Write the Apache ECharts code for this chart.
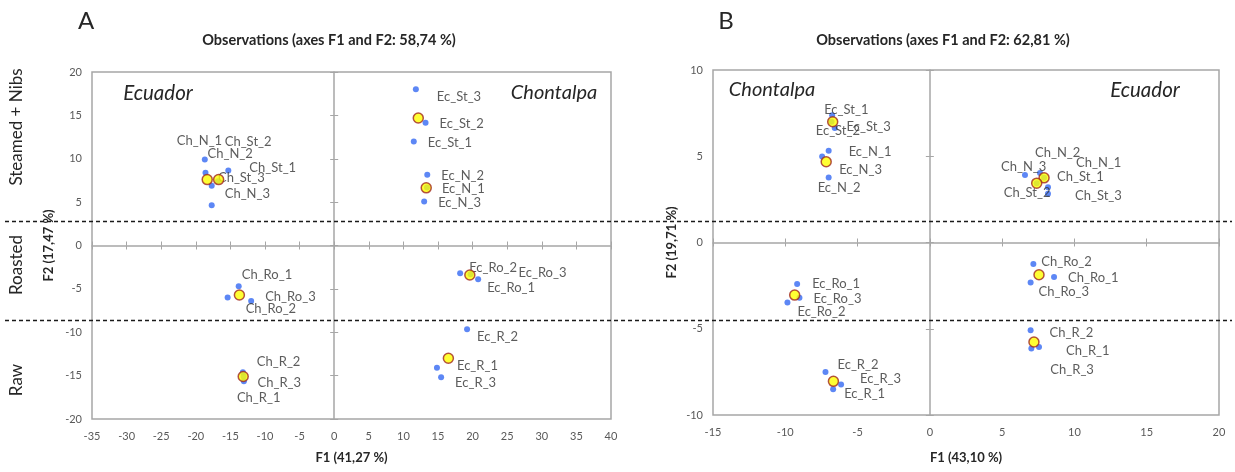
<!DOCTYPE html>
<html>
<head>
<meta charset="utf-8">
<script src="https://cdn.jsdelivr.net/npm/echarts@6/dist/echarts.min.js"></script>
<style>
  html, body { margin: 0; padding: 0; background: #fff; }
  #chart { width: 1235px; height: 472px; }
</style>
</head>
<body>
<div id="chart"></div>
<script>
// panel A - observations (F1 x F2)
const namesA = ['Ch_N_1', 'Ch_N_2', 'Ch_N_3', 'Ch_St_1', 'Ch_St_2', 'Ch_St_3',
  'Ec_St_1', 'Ec_St_2', 'Ec_St_3', 'Ec_N_1', 'Ec_N_2', 'Ec_N_3',
  'Ch_Ro_1', 'Ch_Ro_2', 'Ch_Ro_3', 'Ch_R_1', 'Ch_R_2', 'Ch_R_3',
  'Ec_Ro_1', 'Ec_Ro_2', 'Ec_Ro_3', 'Ec_R_1', 'Ec_R_2', 'Ec_R_3'];
const f1A = [-18.7, -18.6, -17.7, -15.3, -17.7, -16.8,
  11.5, 13.2, 11.8, 13.4, 13.45, 13.0,
  -13.8, -15.4, -12.0, -13.05, -13.2, -13.1,
  20.8, 18.2, 19.7, 14.85, 19.2, 15.45];
const f2A = [9.9, 8.4, 4.65, 8.65, 6.9, 7.4,
  12.0, 14.15, 18.0, 6.7, 8.15, 5.07,
  -4.7, -6.0, -6.4, -15.65, -14.6, -15.1,
  -3.9, -3.2, -3.3, -14.1, -9.65, -15.2];
// group centroids (yellow)
const centroidF1A = [-18.35, -16.7, 12.15, 13.3, -13.7, -13.15, 19.6, 16.5];
const centroidF2A = [7.6, 7.6, 14.7, 6.65, -5.7, -15.1, -3.4, -13.0];
const f1RangeA = [-35, 40];
const f2RangeA = [-20, 20];
const dividersA = [2.8, -8.55];

// panel B
const namesB = ['Ec_St_1', 'Ec_St_2', 'Ec_St_3', 'Ec_N_1', 'Ec_N_2', 'Ec_N_3',
  'Ch_N_1', 'Ch_N_2', 'Ch_N_3', 'Ch_St_1', 'Ch_St_2', 'Ch_St_3',
  'Ec_Ro_1', 'Ec_Ro_2', 'Ec_Ro_3', 'Ec_R_1', 'Ec_R_2', 'Ec_R_3',
  'Ch_Ro_1', 'Ch_Ro_2', 'Ch_Ro_3', 'Ch_R_1', 'Ch_R_2', 'Ch_R_3'];
const f1B = [-6.76, -6.58, -6.8, -7.0, -7.0, -7.45,
  7.9, 7.62, 6.58, 8.17, 7.39, 8.17,
  -9.18, -9.85, -9.02, -6.69, -7.22, -6.14,
  8.59, 7.16, 6.97, 7.55, 6.97, 7.02];
const f2B = [7.37, 6.64, 7.0, 5.32, 3.77, 4.99,
  3.75, 4.03, 3.92, 3.21, 3.44, 2.82,
  -2.41, -3.48, -3.2, -8.5, -7.51, -8.23,
  -2.0, -1.25, -2.32, -6.06, -5.09, -6.15];
const centroidF1B = [-6.72, -7.17, 7.9, 7.39, -9.35, -6.67, 7.55, 7.2];
const centroidF2B = [7.0, 4.68, 3.75, 3.44, -3.05, -8.05, -1.87, -5.77];
const f1RangeB = [-15, 20];
const f2RangeB = [-10, 10];
const tickStep = 5;

// where each point label sits relative to its dot (px)
const labelOffsetA = {
  Ch_N_1: [-28, -19], Ch_N_2: [2, -19], Ch_N_3: [13, -11],
  Ch_St_1: [21, -3], Ch_St_2: [13, -44], Ch_St_3: [0, -3],
  Ec_St_1: [14, 1], Ec_St_2: [14, 1], Ec_St_3: [21, 7],
  Ec_N_1: [15, 1], Ec_N_2: [14, 1], Ec_N_3: [14, 1],
  Ch_Ro_1: [3, -11], Ch_Ro_2: [18, 11], Ch_Ro_3: [14, -4],
  Ch_R_1: [-7, 17], Ch_R_2: [14, -10], Ch_R_3: [14, 6],
  Ec_Ro_1: [9, 8], Ec_Ro_2: [9, -5], Ec_Ro_3: [48, -1],
  Ec_R_1: [20, -2], Ec_R_2: [10, 8], Ec_R_3: [14, 5]
};
const labelOffsetB = {
  Ec_St_1: [-8, -6], Ec_St_2: [-19, 3], Ec_St_3: [15, 5],
  Ec_N_1: [20, 1], Ec_N_2: [-11, 10], Ec_N_3: [17, 13],
  Ch_N_1: [32, -15], Ch_N_2: [-5, -20], Ch_N_3: [-24, -8],
  Ch_St_1: [9, -10], Ch_St_2: [-33, 10], Ch_St_3: [27, 2],
  Ec_Ro_1: [15, 0], Ec_Ro_2: [10, 9], Ec_Ro_3: [14, 1],
  Ec_R_1: [11, 5], Ec_R_2: [12, -7], Ec_R_3: [19, -6],
  Ch_Ro_1: [14, 1], Ch_Ro_2: [8, -2], Ch_Ro_3: [8, 9],
  Ch_R_1: [27, 4], Ch_R_2: [19, 3], Ch_R_3: [19, 21]
};

const FONT = 'Lato';
const frameColor = '#a6a6a6';

function points(names, xs, ys, offsets) {
  return names.map((n, i) => ({
    name: n,
    value: [xs[i], ys[i]],
    label: { offset: offsets[n] }
  }));
}
function pairs(xs, ys) {
  return xs.map((x, i) => [x, ys[i]]);
}

// each panel: one labelled axis pair at the frame, plus two zero-crossing axes (ticks out + in)
function xAxes(grid, range, name, nameGap, yLabelIdx) {
  const base = { gridIndex: grid, type: 'value', min: range[0], max: range[1], interval: tickStep, position: 'bottom', splitLine: { show: false } };
  return [
    Object.assign({}, base, {
      axisLine: { show: false, onZero: false }, axisTick: { show: false },
      axisLabel: { color: '#595959', fontSize: 11, fontFamily: FONT, margin: 12 },
      name: name, nameLocation: 'middle', nameGap: nameGap,
      nameTextStyle: { color: '#262626', fontWeight: 'bold', fontSize: 13, fontFamily: FONT }
    }),
    Object.assign({}, base, {
      axisLine: { show: true, onZero: true, onZeroAxisIndex: yLabelIdx, lineStyle: { color: frameColor, width: 1.5 } },
      axisTick: { show: true, length: 4, lineStyle: { color: frameColor } }, axisLabel: { show: false }
    }),
    Object.assign({}, base, {
      axisLine: { show: false, onZero: true, onZeroAxisIndex: yLabelIdx },
      axisTick: { show: true, inside: true, length: 4, lineStyle: { color: frameColor } }, axisLabel: { show: false }
    })
  ];
}
function yAxes(grid, range, name, nameGap, xLabelIdx) {
  const base = { gridIndex: grid, type: 'value', min: range[0], max: range[1], interval: tickStep, position: 'left', splitLine: { show: false } };
  return [
    Object.assign({}, base, {
      axisLine: { show: false, onZero: false }, axisTick: { show: false },
      axisLabel: { color: '#595959', fontSize: 11, fontFamily: FONT, margin: 10 },
      name: name, nameLocation: 'middle', nameGap: nameGap, nameRotate: 90,
      nameTextStyle: { color: '#262626', fontWeight: 'bold', fontSize: 13, fontFamily: FONT }
    }),
    Object.assign({}, base, {
      axisLine: { show: true, onZero: true, onZeroAxisIndex: xLabelIdx, lineStyle: { color: frameColor, width: 1.5 } },
      axisTick: { show: true, length: 4, lineStyle: { color: frameColor } }, axisLabel: { show: false }
    }),
    Object.assign({}, base, {
      axisLine: { show: false, onZero: true, onZeroAxisIndex: xLabelIdx },
      axisTick: { show: true, inside: true, length: 4, lineStyle: { color: frameColor } }, axisLabel: { show: false }
    })
  ];
}

const dotSeries = (axisIdx, data) => ({
  type: 'scatter', xAxisIndex: axisIdx, yAxisIndex: axisIdx,
  symbolSize: 6, itemStyle: { color: '#3469f2' }, data: data, z: 3,
  label: {
    show: true, position: 'inside', align: 'left', verticalAlign: 'middle',
    formatter: p => p.name, color: '#333333', fontSize: 13, fontFamily: FONT
  },
  emphasis: { disabled: true }
});
const centroidSeries = (axisIdx, data) => ({
  type: 'scatter', xAxisIndex: axisIdx, yAxisIndex: axisIdx,
  symbolSize: 10, data: data, z: 4,
  itemStyle: { color: '#ffff00', borderColor: '#a0281e', borderWidth: 1.5 },
  emphasis: { disabled: true }
});

const chart = echarts.init(document.getElementById('chart'));
const option = {
  backgroundColor: '#ffffff',
  animation: false,
  grid: [
    { left: 92, top: 72, width: 519, height: 347, show: true, borderColor: frameColor, borderWidth: 1.5, backgroundColor: 'transparent' },
    { left: 713, top: 70, width: 506, height: 345, show: true, borderColor: frameColor, borderWidth: 1.5, backgroundColor: 'transparent' }
  ],
  xAxis: xAxes(0, f1RangeA, 'F1 (41,27 %)', 32, 0).concat(xAxes(1, f1RangeB, 'F1 (43,10 %)', 36, 3)),
  yAxis: yAxes(0, f2RangeA, 'F2 (17,47 %)', 37, 0).concat(yAxes(1, f2RangeB, 'F2 (19,71 %)', 35, 3)),
  series: [
    dotSeries(0, points(namesA, f1A, f2A, labelOffsetA)),
    centroidSeries(0, pairs(centroidF1A, centroidF2A)),
    dotSeries(3, points(namesB, f1B, f2B, labelOffsetB)),
    centroidSeries(3, pairs(centroidF1B, centroidF2B))
  ]
};
chart.setOption(option);

// texts + the dashed lines separating treatments (they run across both panels)
const txt = (x, y, s, style, rot) => ({
  type: 'text', x: x, y: y, rotation: rot || 0,
  style: Object.assign({ text: s, fill: '#262626', fontFamily: FONT, align: 'center', verticalAlign: 'middle' }, style)
});
const graphics = [
  txt(86, 21, 'A', { fontSize: 24 }),
  txt(726, 21, 'B', { fontSize: 24 }),
  txt(329, 40, 'Observations (axes F1 and F2: 58,74 %)', { fontSize: 14.5, fontWeight: 'bold' }),
  txt(943, 40, 'Observations (axes F1 and F2: 62,81 %)', { fontSize: 14.5, fontWeight: 'bold' }),
  txt(158, 93, 'Ecuador', { fontSize: 20.5, fontStyle: 'italic' }),
  txt(554, 93, 'Chontalpa', { fontSize: 20, fontStyle: 'italic' }),
  txt(772, 90, 'Chontalpa', { fontSize: 20, fontStyle: 'italic' }),
  txt(1145, 90, 'Ecuador', { fontSize: 20.5, fontStyle: 'italic' }),
  txt(17, 127, 'Steamed + Nibs', { fontSize: 17 }, Math.PI / 2),
  txt(17, 265, 'Roasted', { fontSize: 17 }, Math.PI / 2),
  txt(17, 380, 'Raw', { fontSize: 17 }, Math.PI / 2)
];
dividersA.forEach(v => {
  const y = Math.round(chart.convertToPixel({ yAxisIndex: 0 }, v)) + 0.5;
  graphics.push({
    type: 'line', shape: { x1: 5, y1: y, x2: 1232, y2: y }, z: 10,
    style: { stroke: '#1a1a1a', lineWidth: 1.5, lineDash: [4, 3] }
  });
});
chart.setOption({ graphic: graphics });
</script>
</body>
</html>
